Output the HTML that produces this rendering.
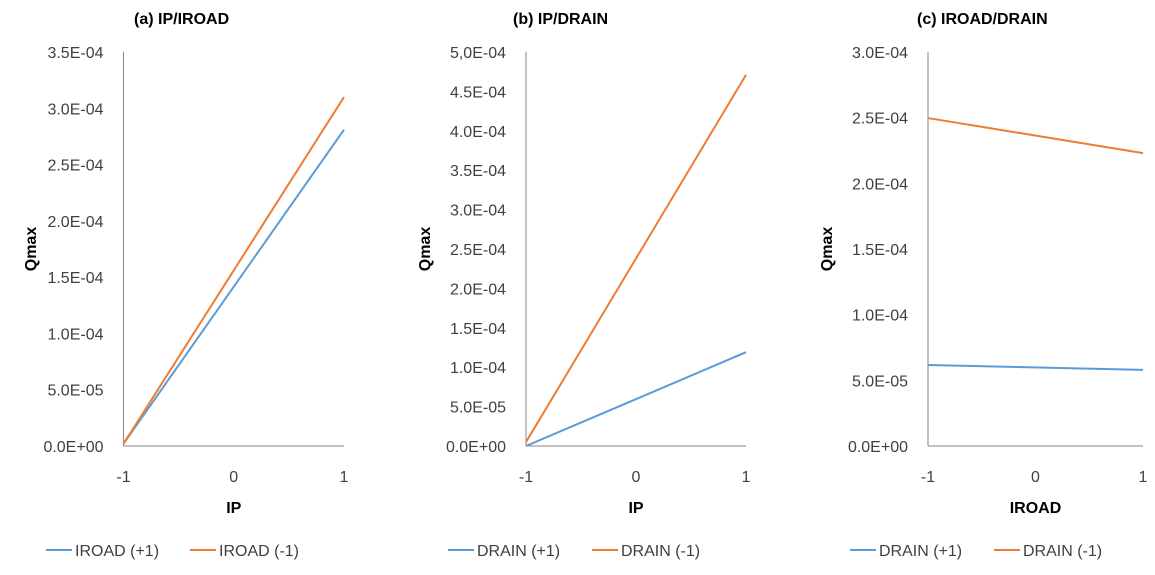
<!DOCTYPE html>
<html><head><meta charset="utf-8"><style>
body{margin:0;background:#fff;font-family:"Liberation Sans",Arial,sans-serif}
svg text{font-family:"Liberation Sans",Arial,sans-serif}
</style></head><body>
<svg id="s" width="1155" height="570"></svg>
<script>
const xCats=[-1,0,1];
const aMax=3.5e-4, aTicks=["0.0E+00","5.0E-05","1.0E-04","1.5E-04","2.0E-04","2.5E-04","3.0E-04","3.5E-04"];
const bMax=5e-4, bTicks=["0.0E+00","5.0E-05","1.0E-04","1.5E-04","2.0E-04","2.5E-04","3.0E-04","3.5E-04","4.0E-04","4.5E-04","5,0E-04"];
const cMax=3e-4, cTicks=["0.0E+00","5.0E-05","1.0E-04","1.5E-04","2.0E-04","2.5E-04","3.0E-04"];
const aBlue=[0.2e-5,2.81e-4], aOrange=[0.2e-5,3.10e-4];
const bBlue=[0,1.19e-4], bOrange=[0.5e-5,4.71e-4];
const cBlue=[6.17e-5,5.8e-5], cOrange=[2.497e-4,2.23e-4];
const panels=[
 {id:'a',title:'(a) IP/IROAD',tx:134,x0:123.5,x1:344,ymax:aMax,ticks:aTicks,xt:'IP',yt:30,s:[aBlue,aOrange],leg:['IROAD (+1)','IROAD (-1)'],lx:46},
 {id:'b',title:'(b) IP/DRAIN',tx:513,x0:526,x1:746,ymax:bMax,ticks:bTicks,xt:'IP',yt:424,s:[bBlue,bOrange],leg:['DRAIN (+1)','DRAIN (-1)'],lx:448},
 {id:'c',title:'(c) IROAD/DRAIN',tx:917,x0:928,x1:1143,ymax:cMax,ticks:cTicks,xt:'IROAD',yt:826,s:[cBlue,cOrange],leg:['DRAIN (+1)','DRAIN (-1)'],lx:850}];
const cols=['#5B9BD5','#ED7D31'];
const svg=document.getElementById('s');const NS='http://www.w3.org/2000/svg';
function mk(t,a,p){const e=document.createElementNS(NS,t);for(const k in a)e.setAttribute(k,a[k]);(p||svg).appendChild(e);return e;}
const Y0=446,Y1=52;
panels.forEach(p=>{
 const g=mk('g',{});
 
 
 const xs=v=>p.x0+(v-xCats[0])/(xCats[2]-xCats[0])*(p.x1-p.x0);
 const ys=v=>Y0-v/p.ymax*(Y0-Y1);
 const t=mk('text',{x:p.tx,y:24,'font-size':16,'font-weight':'bold',fill:'#000'},g);t.textContent=p.title;
 
 
 const ax=mk('line',{x1:p.x0,y1:Y1,x2:p.x0,y2:Y0,stroke:'#868686','stroke-width':1},g);
 
 
 const bx=mk('line',{x1:p.x0,y1:Y0,x2:p.x1,y2:Y0,stroke:'#868686','stroke-width':1},g);
 
 
 p.ticks.forEach((lab,i)=>{const v=i*p.ymax/(p.ticks.length-1);
  const e=mk('text',{x:p.x0-20,y:ys(v)+6,'font-size':16,'text-anchor':'end',fill:'#404040'},g);e.textContent=lab;
  
  });
 xCats.forEach(c=>{const e=mk('text',{x:xs(c),y:482,'font-size':16,'text-anchor':'middle',fill:'#404040'},g);e.textContent=c;
  
  });
 const xt=mk('text',{x:(p.x0+p.x1)/2,y:513,'font-size':16,'font-weight':'bold','text-anchor':'middle',fill:'#000'},g);xt.textContent=p.xt;
 
 
 const yt=mk('text',{x:0,y:0,'font-size':16,'font-weight':'bold','text-anchor':'middle',fill:'#000',transform:`translate(${p.yt+6},249) rotate(-90)`},g);yt.textContent='Qmax';
 
 
 p.s.forEach((vals,si)=>{
  const l=mk('line',{x1:xs(xCats[0]),y1:ys(vals[0]),x2:xs(xCats[2]),y2:ys(vals[1]),stroke:cols[si],'stroke-width':2},g);
  
  
  const lx=p.lx+si*144;
  const ll=mk('line',{x1:lx,y1:550,x2:lx+26,y2:550,stroke:cols[si],'stroke-width':2},g);
  
  
  const lt=mk('text',{x:lx+29,y:556,'font-size':16,fill:'#404040'},g);lt.textContent=p.leg[si];
  
  
 });
});
</script>
</body></html>
